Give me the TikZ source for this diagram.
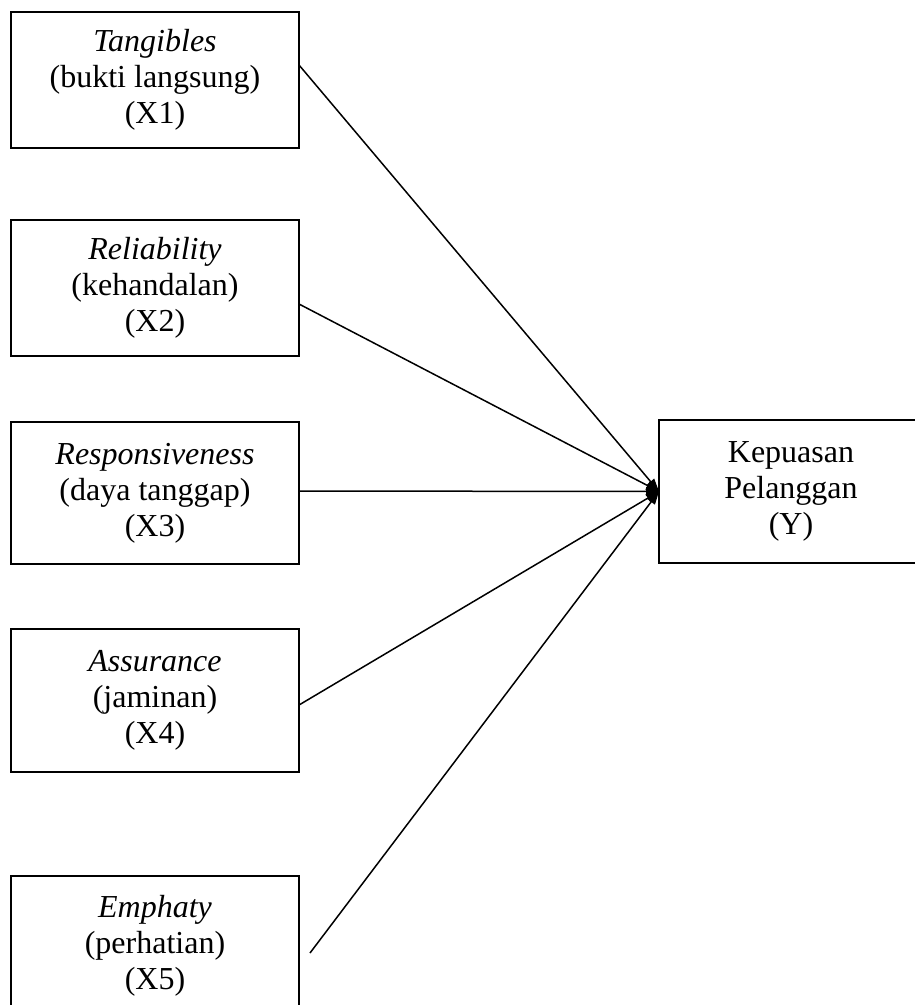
\documentclass[tikz,border=0pt]{standalone}
\usepackage{fontspec}
\setmainfont{Liberation Serif}
\usetikzlibrary{arrows.meta}
\begin{document}
\begin{tikzpicture}[x=1pt,y=-1pt,
  box/.style={draw, line width=1.5pt, outer sep=0pt, inner sep=0pt, align=center,
    font=\fontsize{32}{36}\selectfont},
  xbox/.style={box, minimum width=288pt},
  conn/.style={line width=1.5pt, -{Triangle[length=13pt,width=9pt]}}]
\useasboundingbox (0,0) rectangle (914,1005);
\node[xbox, minimum height=136pt] (x1) at (155,80) {\textit{Tangibles}\\(bukti langsung)\\(X1)};
\node[xbox, minimum height=136pt] (x2) at (155,288) {\textit{Reliability}\\(kehandalan)\\(X2)};
\node[xbox, minimum height=142pt] (x3) at (155,493) {\textit{Responsiveness}\\(daya tanggap)\\(X3)};
\node[xbox, minimum height=143pt] (x4) at (155,700.5) {\textit{Assurance}\\(jaminan)\\(X4)};
\node[xbox, minimum height=140pt] (x5) at (155,946) {\textit{Emphaty}\\(perhatian)\\(X5)};
\node[box, minimum width=264pt, minimum height=143pt] (y) at (791,491.5) {Kepuasan\\Pelanggan\\(Y)};
\coordinate (e5) at (310,953);
\draw[conn] ([yshift=15pt]x1.east) -- (y.west);
\draw[conn] ([yshift=-16pt]x2.east) -- (y.west);
\draw[conn] ([yshift=2pt]x3.east) -- (y.west);
\draw[conn] ([yshift=-4.5pt]x4.east) -- (y.west);
\draw[conn] (e5) -- (y.west);
\end{tikzpicture}
\end{document}
